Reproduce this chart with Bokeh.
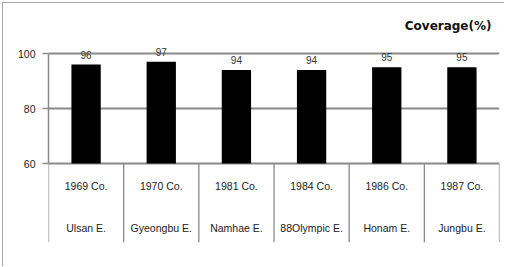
from bokeh.plotting import figure
from bokeh.models import FactorRange, Range1d, FixedTicker, Label, ColumnDataSource
from bokeh.core.properties import value
from bokeh.embed import file_html
from bokeh.resources import INLINE

# ---- data ----
years = ["1969 Co.", "1970 Co.", "1981 Co.", "1984 Co.", "1986 Co.", "1987 Co."]
roads = ["Ulsan E.", "Gyeongbu E.", "Namhae E.", "88Olympic E.", "Honam E.", "Jungbu E."]
coverage = [96, 97, 94, 94, 95, 95]
y_ticks = [60, 80, 100]
y_title = "Coverage(%)"

# ---- layout constants (pixels) ----
W, H = 502, 264
left, right, top, bottom = 45, 6, 0, 25
frame_h = H - top - bottom
y100_px, y60_px = 50, 160           # frame y of value 100 and 60
ppu = (y60_px - y100_px) / 40.0     # pixels per unit
y_top = 100 + y100_px / ppu
y_bot = 60 - (frame_h - y60_px) / ppu

FONT = "Liberation Sans"
GRID = "#8a8a8a"

src = ColumnDataSource(dict(x=years, y=coverage, lab=[str(v) for v in coverage],
                            road=roads))

p = figure(width=W, height=H, output_backend="svg", toolbar_location=None,
           x_range=FactorRange(*years, factor_padding=0, range_padding=0),
           y_range=Range1d(y_bot, y_top),
           min_border_left=left, min_border_right=right,
           min_border_top=top, min_border_bottom=bottom)
p.styles = {"margin-left": "2px", "margin-top": "2px",
            "border-left": "1px solid #a6a6a6", "border-top": "1px solid #a6a6a6"}
p.outline_line_color = None
p.background_fill_color = "white"
p.border_fill_color = "white"

# y axis
p.yaxis.ticker = FixedTicker(ticks=y_ticks)
p.yaxis.bounds = (60, 100)
p.yaxis.axis_line_color = GRID
p.yaxis.axis_line_width = 1.5
p.yaxis.major_tick_line_color = GRID
p.yaxis.major_tick_line_width = 1.5
p.yaxis.major_tick_out = 6
p.yaxis.major_tick_in = 0
p.yaxis.minor_tick_line_color = None
p.yaxis.major_label_standoff = 7
p.yaxis.major_label_text_font = FONT
p.yaxis.major_label_text_font_size = "10.5px"
p.yaxis.major_label_text_color = "#222222"

p.xaxis.visible = False
p.xgrid.grid_line_color = None
p.ygrid.grid_line_color = GRID
p.ygrid.grid_line_width = 1.8

# bars
p.vbar(x="x", top="y", bottom=60, width=0.39, source=src,
       fill_color="black", line_color=None)
# value labels
p.text(x="x", y="y", text="lab", source=src, text_align="center",
       text_baseline="alphabetic", y_offset=-10,
       text_font=value(FONT), text_font_size="10px", text_color="#333333")

# category table separators
n = len(years)
p.segment(x0=list(range(n + 1)), y0=[60] * (n + 1), x1=list(range(n + 1)),
          y1=[y_bot] * (n + 1), line_color=GRID, line_width=1.3)

# category row labels
p.text(x="x", y=60 - 22 / ppu, text="x", source=src, text_align="center",
       text_baseline="middle", text_font=value(FONT), text_font_size="10.5px",
       text_color="#222222")
p.text(x="x", y=60 - 64 / ppu, text="road", source=src, text_align="center",
       text_baseline="middle", text_font=value(FONT), text_font_size="10.5px",
       text_color="#222222")

p.add_layout(Label(x=n, y=100 + 28 / ppu, x_offset=-8, text=y_title,
                   text_align="right", text_baseline="middle",
                   text_font="DejaVu Sans", text_font_style="bold",
                   text_font_size="12px", text_color="#111111"))

open("out.html", "w").write(file_html(p, INLINE))
